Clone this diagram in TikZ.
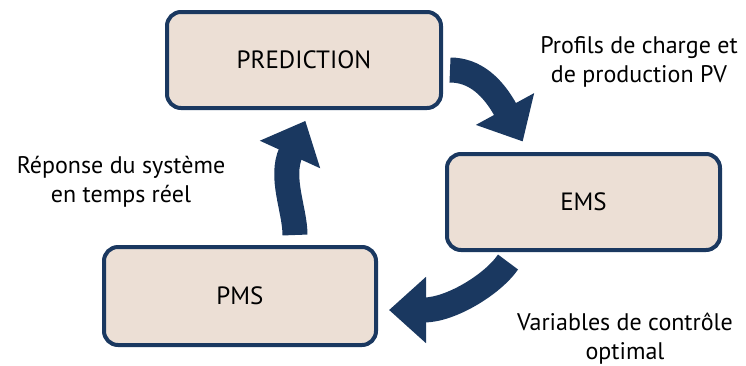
\documentclass[tikz,border=0pt]{standalone}
\usepackage{fontspec}
\setmainfont{PT Sans}
\usetikzlibrary{arrows.meta,calc}
\definecolor{navy}{RGB}{26,56,96}
\definecolor{boxfill}{RGB}{236,223,213}
\begin{document}
\begin{tikzpicture}[x=1pt,y=-1pt,
  stagebox/.style={draw=navy, fill=boxfill, line width=4pt, rounded corners=14pt,
    minimum width=274pt, minimum height=96pt, inner sep=0pt,
    font=\fontsize{25}{30}\selectfont},
  % the shaft ends where the head begins; the head sticks out past that point
  flow/.style={draw=navy, line width=25pt, shorten >=-37pt,
    -{Triangle[width=64pt,length=37pt]}},
  note/.style={align=center, inner sep=0pt, anchor=base,
    font=\fontsize{24}{29}\selectfont}]
\useasboundingbox (0,0) rectangle (746,365);

% the three stages
\node[stagebox] (pred) at (304,60) {PREDICTION};
\node[stagebox, minimum width=273pt] (ems) at (583.5,202) {EMS};
\node[stagebox, minimum width=272pt, minimum height=98pt] (pms) at (240,296) {PMS};

% where each shaft starts and where its head begins
\coordinate (s1) at ($(pred.east)+(7,10)$);
\coordinate (h1) at ($(ems.north west)+(60,-43)$);
\coordinate (s2) at ($(ems.south)+(-75.5,10)$);
\coordinate (h2) at ($(pms.east)+(48,14)$);
\coordinate (s3) at ($(pms.north)+(55,-10)$);
\coordinate (h3) at ($(pred.south)+(-14,44.5)$);

% the loop
\draw[flow] (s1) .. controls +(25,0) and +(-12,-22) .. (h1);
\draw[flow] (s2) .. controls +(-15,22) and +(25,0) .. (h2);
\draw[flow] (s3) .. controls +(0,-25) and +(-10.5,23) .. (h3);

% what each step passes on
\node[note] (lab1) at (639,82) {Profils de charge et\\de production PV};
\node[note] (lab2) at (625,359) {Variables de contrôle\\optimal};
\node[note] (lab3) at (121,202) {Réponse du système\\en temps réel};
\end{tikzpicture}
\end{document}
